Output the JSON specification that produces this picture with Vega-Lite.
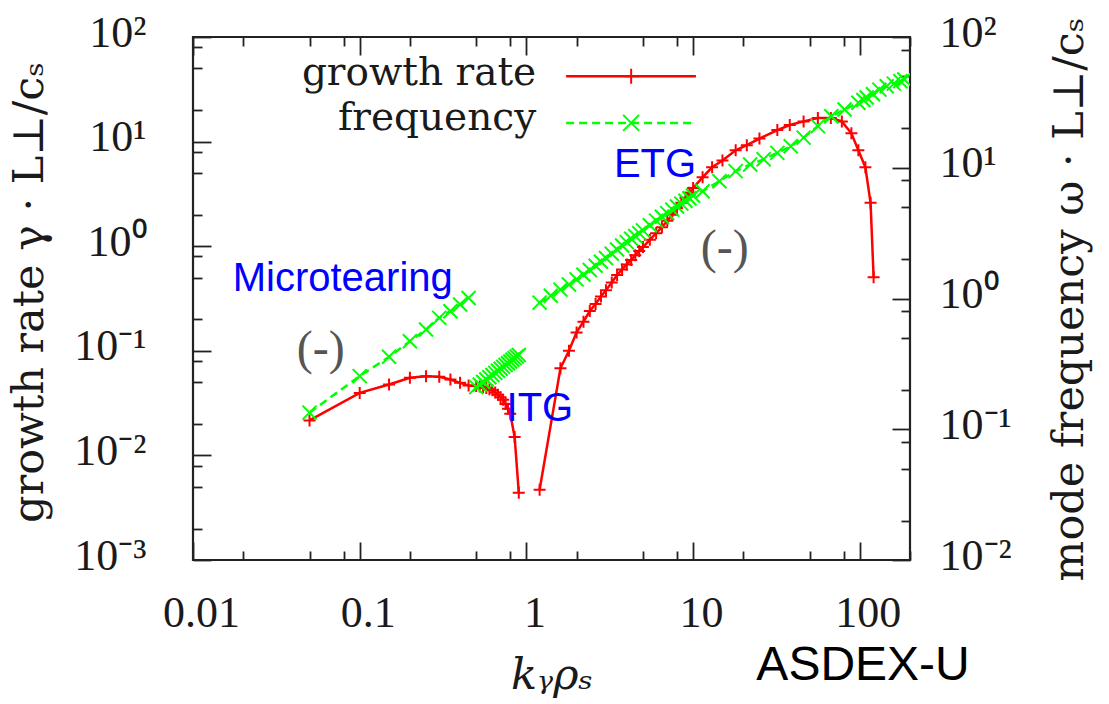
{
  "$schema": "https://vega.github.io/schema/vega-lite/v6.json",
  "width": 717,
  "height": 523,
  "autosize": {"type": "none"},
  "padding": {"left": 193, "top": 37, "right": 199, "bottom": 144},
  "background": "white",
  "config": {
    "view": {"stroke": "#222222", "strokeWidth": 2.2},
    "axis": {
      "grid": false, "domain": false, "tickColor": "#222222", "tickWidth": 1.8,
      "labelColor": "#1a1a1a", "titleColor": "#1a1a1a",
      "labelFont": "Liberation Serif", "labelFontSize": 44,
      "titleFont": "DejaVu Serif", "titleFontSize": 43, "titleFontWeight": "normal",
      "labelFlush": false, "labelOverlap": false, "labelBound": false
    }
  },
  "datasets": {
    "growth": [
      {"k": 0.05, "g": 0.0216, "b": "low"}, {"k": 0.1, "g": 0.0396, "b": "low"}, {"k": 0.15, "g": 0.0476, "b": "low"},
      {"k": 0.2, "g": 0.0552, "b": "low"}, {"k": 0.25, "g": 0.0572, "b": "low"}, {"k": 0.3, "g": 0.0564, "b": "low"},
      {"k": 0.35, "g": 0.0532, "b": "low"}, {"k": 0.4, "g": 0.0494, "b": "low"}, {"k": 0.45, "g": 0.0466, "b": "low"},
      {"k": 0.5, "g": 0.046, "b": "low"}, {"k": 0.525, "g": 0.0455, "b": "low"}, {"k": 0.55, "g": 0.045, "b": "low"},
      {"k": 0.575, "g": 0.044, "b": "low"}, {"k": 0.6, "g": 0.043, "b": "low"}, {"k": 0.625, "g": 0.042, "b": "low"},
      {"k": 0.65, "g": 0.04, "b": "low"}, {"k": 0.675, "g": 0.038, "b": "low"}, {"k": 0.7, "g": 0.036, "b": "low"},
      {"k": 0.725, "g": 0.034, "b": "low"}, {"k": 0.75, "g": 0.031, "b": "low"}, {"k": 0.775, "g": 0.028, "b": "low"},
      {"k": 0.8, "g": 0.025, "b": "low"}, {"k": 0.85, "g": 0.015, "b": "low"}, {"k": 0.9, "g": 0.0044, "b": "low"},
      {"k": 1.2, "g": 0.0047, "b": "etg"}, {"k": 1.6, "g": 0.068, "b": "etg"}, {"k": 1.8, "g": 0.1, "b": "etg"},
      {"k": 2.0, "g": 0.15, "b": "etg"}, {"k": 2.2, "g": 0.19, "b": "etg"}, {"k": 2.4, "g": 0.24, "b": "etg"},
      {"k": 2.6, "g": 0.28, "b": "etg"}, {"k": 2.8, "g": 0.33, "b": "etg"}, {"k": 3.0, "g": 0.38, "b": "etg"},
      {"k": 3.25, "g": 0.45, "b": "etg"}, {"k": 3.5, "g": 0.53, "b": "etg"}, {"k": 3.75, "g": 0.6, "b": "etg"},
      {"k": 4.0, "g": 0.67, "b": "etg"}, {"k": 4.25, "g": 0.74, "b": "etg"}, {"k": 4.5, "g": 0.82, "b": "etg"},
      {"k": 4.75, "g": 0.9, "b": "etg"}, {"k": 5.0, "g": 0.98, "b": "etg"}, {"k": 5.5, "g": 1.15, "b": "etg"},
      {"k": 6.0, "g": 1.33, "b": "etg"}, {"k": 6.5, "g": 1.52, "b": "etg"}, {"k": 7.0, "g": 1.75, "b": "etg"},
      {"k": 7.5, "g": 2.0, "b": "etg"}, {"k": 8.0, "g": 2.3, "b": "etg"}, {"k": 8.5, "g": 2.6, "b": "etg"},
      {"k": 9.0, "g": 2.9, "b": "etg"}, {"k": 9.5, "g": 3.25, "b": "etg"}, {"k": 10, "g": 3.6, "b": "etg"},
      {"k": 11.4, "g": 4.55, "b": "etg"}, {"k": 13, "g": 5.68, "b": "etg"}, {"k": 15, "g": 6.6, "b": "etg"},
      {"k": 18, "g": 8.26, "b": "etg"}, {"k": 21, "g": 9.25, "b": "etg"}, {"k": 25, "g": 10.7, "b": "etg"},
      {"k": 32, "g": 12.9, "b": "etg"}, {"k": 38, "g": 14.4, "b": "etg"}, {"k": 46, "g": 15.6, "b": "etg"},
      {"k": 56, "g": 16.8, "b": "etg"}, {"k": 67, "g": 16.8, "b": "etg"}, {"k": 78, "g": 15.6, "b": "etg"},
      {"k": 89, "g": 12.0, "b": "etg"}, {"k": 98, "g": 8.26, "b": "etg"}, {"k": 108, "g": 5.68, "b": "etg"},
      {"k": 116, "g": 2.6, "b": "etg"}, {"k": 121, "g": 0.505, "b": "etg"}
    ],
    "freq": [
      {"k": 0.05, "w": 0.134, "b": "mt"}, {"k": 0.1, "w": 0.255, "b": "mt"}, {"k": 0.15, "w": 0.358, "b": "mt"},
      {"k": 0.2, "w": 0.471, "b": "mt"}, {"k": 0.25, "w": 0.579, "b": "mt"}, {"k": 0.3, "w": 0.711, "b": "mt"},
      {"k": 0.35, "w": 0.8, "b": "mt"}, {"k": 0.4, "w": 0.9, "b": "mt"}, {"k": 0.45, "w": 1.01, "b": "mt"},
      {"k": 0.5, "w": 0.21, "b": "itg"}, {"k": 0.525, "w": 0.22, "b": "itg"}, {"k": 0.55, "w": 0.23, "b": "itg"},
      {"k": 0.575, "w": 0.24, "b": "itg"}, {"k": 0.6, "w": 0.25, "b": "itg"}, {"k": 0.625, "w": 0.26, "b": "itg"},
      {"k": 0.65, "w": 0.27, "b": "itg"}, {"k": 0.675, "w": 0.28, "b": "itg"}, {"k": 0.7, "w": 0.29, "b": "itg"},
      {"k": 0.725, "w": 0.3, "b": "itg"}, {"k": 0.75, "w": 0.31, "b": "itg"}, {"k": 0.775, "w": 0.32, "b": "itg"},
      {"k": 0.8, "w": 0.33, "b": "itg"}, {"k": 0.825, "w": 0.34, "b": "itg"}, {"k": 0.85, "w": 0.35, "b": "itg"},
      {"k": 0.875, "w": 0.36, "b": "itg"}, {"k": 0.9, "w": 0.37, "b": "itg"},
      {"k": 1.2, "w": 0.93, "b": "etg"}, {"k": 1.4, "w": 1.05, "b": "etg"}, {"k": 1.6, "w": 1.17, "b": "etg"},
      {"k": 1.8, "w": 1.28, "b": "etg"}, {"k": 2.0, "w": 1.4, "b": "etg"}, {"k": 2.2, "w": 1.52, "b": "etg"},
      {"k": 2.4, "w": 1.65, "b": "etg"}, {"k": 2.6, "w": 1.78, "b": "etg"}, {"k": 2.8, "w": 1.91, "b": "etg"},
      {"k": 3.0, "w": 2.04, "b": "etg"}, {"k": 3.25, "w": 2.2, "b": "etg"}, {"k": 3.5, "w": 2.37, "b": "etg"},
      {"k": 3.75, "w": 2.54, "b": "etg"}, {"k": 4.0, "w": 2.7, "b": "etg"}, {"k": 4.25, "w": 2.86, "b": "etg"},
      {"k": 4.5, "w": 3.0, "b": "etg"}, {"k": 4.75, "w": 3.16, "b": "etg"}, {"k": 5.0, "w": 3.32, "b": "etg"},
      {"k": 5.5, "w": 3.63, "b": "etg"}, {"k": 6.0, "w": 3.94, "b": "etg"}, {"k": 6.5, "w": 4.22, "b": "etg"},
      {"k": 7.0, "w": 4.5, "b": "etg"}, {"k": 7.5, "w": 4.78, "b": "etg"}, {"k": 8.0, "w": 5.05, "b": "etg"},
      {"k": 8.5, "w": 5.32, "b": "etg"}, {"k": 9.0, "w": 5.6, "b": "etg"}, {"k": 9.5, "w": 5.85, "b": "etg"},
      {"k": 10, "w": 6.1, "b": "etg"}, {"k": 11.4, "w": 6.62, "b": "etg"}, {"k": 14.4, "w": 7.89, "b": "etg"},
      {"k": 18, "w": 9.42, "b": "etg"}, {"k": 22, "w": 10.6, "b": "etg"}, {"k": 26.5, "w": 11.6, "b": "etg"},
      {"k": 32, "w": 13.0, "b": "etg"}, {"k": 38.5, "w": 14.6, "b": "etg"}, {"k": 46, "w": 17.0, "b": "etg"},
      {"k": 56, "w": 20.8, "b": "etg"}, {"k": 67.5, "w": 24.8, "b": "etg"}, {"k": 81, "w": 27.9, "b": "etg"},
      {"k": 98, "w": 31.4, "b": "etg"}, {"k": 105, "w": 33.0, "b": "etg"}, {"k": 110, "w": 34.5, "b": "etg"},
      {"k": 120, "w": 36.5, "b": "etg"}, {"k": 131, "w": 39.6, "b": "etg"}, {"k": 145, "w": 42.0, "b": "etg"},
      {"k": 160, "w": 44.0, "b": "etg"}, {"k": 175, "w": 46.0, "b": "etg"}, {"k": 185, "w": 47.3, "b": "etg"}
    ],
    "notes": [
      {"kind": "blue", "t": "Microtearing", "k": 0.0173, "g": 0.369},
      {"kind": "blue", "t": "ETG", "k": 3.35, "g": 4.54},
      {"kind": "blue", "t": "ITG", "k": 0.76, "g": 0.0212},
      {"kind": "paren", "t": "(-)", "k": 0.0583, "g": 0.1007},
      {"kind": "paren", "t": "(-)", "k": 15.5, "g": 0.93},
      {"kind": "legend", "t": "growth rate", "k": 1.145, "g": 34.4},
      {"kind": "legend", "t": "frequency", "k": 1.145, "g": 13.05},
      {"kind": "tag", "t": "ASDEX-U", "k": 23.96, "g": 0.000072}
    ],
    "legline": [
      {"s": "growth rate", "k": 1.73, "k2": 10.4, "g": 42.2},
      {"s": "frequency", "k": 1.73, "k2": 10.4, "g": 15.1}
    ],
    "legmark": [
      {"s": "growth rate", "k": 4.25, "g": 42.2},
      {"s": "frequency", "k": 4.25, "g": 15.1}
    ]
  },
  "layer": [
    {
      "layer": [
        {
          "data": {"name": "growth"},
          "mark": {"type": "line", "color": "#ff0000", "strokeWidth": 2.5},
          "encoding": {
            "x": {
              "field": "k", "type": "quantitative",
              "scale": {"type": "log", "domain": [0.01, 200], "nice": false},
              "axis": {
                "orient": "bottom",
                "values": [0.01, 0.02, 0.05, 0.08, 0.1, 0.2, 0.5, 0.8, 1, 2, 5, 8, 10, 20, 50, 80, 100, 200],
                "labelExpr": "datum.value == 0.01 ? '0.01' : datum.value == 0.1 ? '0.1' : datum.value == 1 ? '1' : datum.value == 10 ? '10' : datum.value == 100 ? '100' : ''",
                "tickSize": {"condition": {"test": "abs(log(datum.value)/LN10 - round(log(datum.value)/LN10)) < 0.01", "value": -18}, "value": -9},
                "labelBaseline": "alphabetic", "labelPadding": 84, "labelOffset": 8,
                "title": "kᵧρₛ", "titleFontStyle": "italic",
                "titleX": 358.5, "titleY": 128, "titleAlign": "center", "titleBaseline": "alphabetic"
              }
            },
            "y": {
              "field": "g", "type": "quantitative",
              "scale": {"type": "log", "domain": [0.001, 100], "nice": false},
              "axis": {
                "orient": "left",
                "values": [0.001, 0.002, 0.005, 0.008, 0.01, 0.02, 0.05, 0.08, 0.1, 0.2, 0.5, 0.8, 1, 2, 5, 8, 10, 20, 50, 80, 100],
                "labelExpr": "abs(log(datum.value)/LN10 - round(log(datum.value)/LN10)) < 0.01 ? '10' + (round(log(datum.value)/LN10) == 2 ? '²' : round(log(datum.value)/LN10) == 1 ? '¹' : round(log(datum.value)/LN10) == 0 ? '⁰' : round(log(datum.value)/LN10) == -1 ? '⁻¹' : round(log(datum.value)/LN10) == -2 ? '⁻²' : '⁻³') : ''",
                "tickSize": {"condition": {"test": "abs(log(datum.value)/LN10 - round(log(datum.value)/LN10)) < 0.01", "value": -18}, "value": -9},
                "labelBaseline": "middle", "labelPadding": 65, "labelOffset": -4,
                "title": "growth rate γ · L⊥/cₛ",
                "titleAngle": 270, "titleX": -151, "titleY": 255, "titleAlign": "center", "titleBaseline": "alphabetic"
              }
            },
            "detail": {"field": "b"}
          }
        },
        {
          "data": {"name": "growth"},
          "mark": {"type": "point", "shape": "M-1,0L1,0M0,-1L0,1", "size": 144, "filled": false, "color": "#ff0000", "strokeWidth": 2, "opacity": 1},
          "encoding": {
            "x": {"field": "k", "type": "quantitative"},
            "y": {"field": "g", "type": "quantitative"}
          }
        },
        {
          "data": {"name": "legline"},
          "transform": [{"filter": "datum.s == 'growth rate'"}],
          "mark": {"type": "rule", "color": "#ff0000", "strokeWidth": 2.5},
          "encoding": {
            "x": {"field": "k", "type": "quantitative"},
            "x2": {"field": "k2"},
            "y": {"field": "g", "type": "quantitative"}
          }
        },
        {
          "data": {"name": "legmark"},
          "transform": [{"filter": "datum.s == 'growth rate'"}],
          "mark": {"type": "point", "shape": "M-1,0L1,0M0,-1L0,1", "size": 225, "filled": false, "color": "#ff0000", "strokeWidth": 2, "opacity": 1},
          "encoding": {
            "x": {"field": "k", "type": "quantitative"},
            "y": {"field": "g", "type": "quantitative"}
          }
        },
        {
          "data": {"name": "legline"},
          "transform": [{"filter": "datum.s == 'frequency'"}],
          "mark": {"type": "rule", "color": "#00ff00", "strokeWidth": 2.5, "strokeDash": [8, 5]},
          "encoding": {
            "x": {"field": "k", "type": "quantitative"},
            "x2": {"field": "k2"},
            "y": {"field": "g", "type": "quantitative"}
          }
        },
        {
          "data": {"name": "legmark"},
          "transform": [{"filter": "datum.s == 'frequency'"}],
          "mark": {"type": "point", "shape": "M-1,-1L1,1M1,-1L-1,1", "size": 256, "filled": false, "color": "#00ff00", "strokeWidth": 2, "opacity": 1},
          "encoding": {
            "x": {"field": "k", "type": "quantitative"},
            "y": {"field": "g", "type": "quantitative"}
          }
        },
        {
          "data": {"name": "notes"},
          "transform": [{"filter": "datum.kind == 'blue'"}],
          "mark": {"type": "text", "font": "Liberation Sans", "fontSize": 40, "color": "#0000ff", "align": "left", "baseline": "alphabetic"},
          "encoding": {
            "x": {"field": "k", "type": "quantitative"},
            "y": {"field": "g", "type": "quantitative"},
            "text": {"field": "t"}
          }
        },
        {
          "data": {"name": "notes"},
          "transform": [{"filter": "datum.kind == 'paren'"}],
          "mark": {"type": "text", "font": "Liberation Serif", "fontSize": 48, "color": "#555555", "align": "center", "baseline": "middle"},
          "encoding": {
            "x": {"field": "k", "type": "quantitative"},
            "y": {"field": "g", "type": "quantitative"},
            "text": {"field": "t"}
          }
        },
        {
          "data": {"name": "notes"},
          "transform": [{"filter": "datum.kind == 'legend'"}],
          "mark": {"type": "text", "font": "DejaVu Serif", "fontSize": 39, "color": "#1a1a1a", "align": "right", "baseline": "alphabetic"},
          "encoding": {
            "x": {"field": "k", "type": "quantitative"},
            "y": {"field": "g", "type": "quantitative"},
            "text": {"field": "t"}
          }
        },
        {
          "data": {"name": "notes"},
          "transform": [{"filter": "datum.kind == 'tag'"}],
          "mark": {"type": "text", "font": "Liberation Sans", "fontSize": 48, "color": "#000000", "align": "left", "baseline": "alphabetic"},
          "encoding": {
            "x": {"field": "k", "type": "quantitative"},
            "y": {"field": "g", "type": "quantitative"},
            "text": {"field": "t"}
          }
        }
      ]
    },
    {
      "layer": [
        {
          "data": {"name": "freq"},
          "mark": {"type": "line", "color": "#00ff00", "strokeWidth": 2.5, "strokeDash": [8, 5], "clip": true},
          "encoding": {
            "x": {
              "field": "k", "type": "quantitative",
              "axis": {
                "orient": "top",
                "values": [0.01, 0.02, 0.05, 0.08, 0.1, 0.2, 0.5, 0.8, 1, 2, 5, 8, 10, 20, 50, 80, 100, 200],
                "labels": false, "title": null,
                "tickSize": {"condition": {"test": "abs(log(datum.value)/LN10 - round(log(datum.value)/LN10)) < 0.01", "value": -18}, "value": -9}
              }
            },
            "y": {
              "field": "w", "type": "quantitative",
              "scale": {"type": "log", "domain": [0.01, 100], "nice": false},
              "axis": {
                "orient": "right",
                "values": [0.01, 0.02, 0.05, 0.08, 0.1, 0.2, 0.5, 0.8, 1, 2, 5, 8, 10, 20, 50, 80, 100],
                "labelExpr": "abs(log(datum.value)/LN10 - round(log(datum.value)/LN10)) < 0.01 ? '10' + (round(log(datum.value)/LN10) == 2 ? '²' : round(log(datum.value)/LN10) == 1 ? '¹' : round(log(datum.value)/LN10) == 0 ? '⁰' : round(log(datum.value)/LN10) == -1 ? '⁻¹' : round(log(datum.value)/LN10) == -2 ? '⁻²' : '⁻³') : ''",
                "tickSize": {"condition": {"test": "abs(log(datum.value)/LN10 - round(log(datum.value)/LN10)) < 0.01", "value": -18}, "value": -9},
                "labelBaseline": "middle", "labelPadding": 47, "labelOffset": -4, "labelAlign": "left",
                "title": "mode frequency ω · L⊥/cₛ",
                "titleAngle": 270, "titleX": 172, "titleY": 262, "titleAlign": "center", "titleBaseline": "alphabetic"
              }
            },
            "detail": {"field": "b"}
          }
        },
        {
          "data": {"name": "freq"},
          "mark": {"type": "point", "shape": "M-1,-1L1,1M1,-1L-1,1", "size": 196, "filled": false, "color": "#00ff00", "strokeWidth": 2, "opacity": 1, "clip": true},
          "encoding": {
            "x": {"field": "k", "type": "quantitative"},
            "y": {"field": "w", "type": "quantitative"}
          }
        }
      ]
    }
  ],
  "resolve": {"scale": {"y": "independent"}, "axis": {"x": "independent"}}
}
